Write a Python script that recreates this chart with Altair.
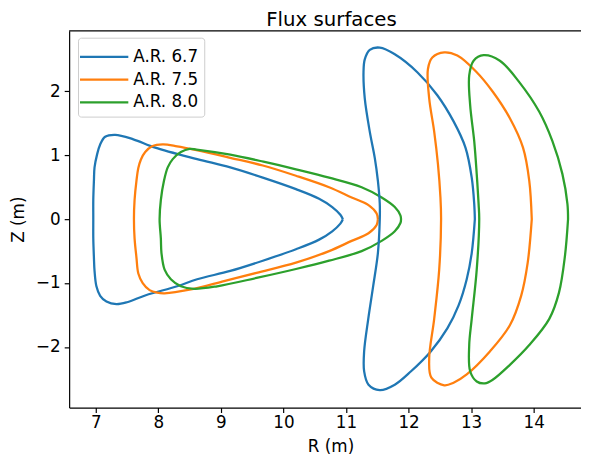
import altair as alt
import pandas as pd

labels = ["A.R. 6.7", "A.R. 7.5", "A.R. 8.0"]
colors = ["#1f77b4", "#ff7f0e", "#2ca02c"]
title_text = "Flux surfaces"

# A.R. 6.7 -- triangular section
tri67_R = [10.95, 10.91, 10.78, 10.57, 10.20, 9.67, 9.15, 8.62, 7.95, 7.60, 7.31, 7.15, 7.07, 7.02, 6.98, 6.97, 6.96, 6.96,
           6.96, 6.97, 6.98, 7.01, 7.07, 7.17, 7.33, 7.50, 7.80, 8.30, 8.62, 9.15, 9.67, 10.20, 10.57, 10.78, 10.91, 10.95]
tri67_Z = [0.0, 0.07, 0.19, 0.32, 0.47, 0.65, 0.81, 0.94, 1.12, 1.25, 1.32, 1.29, 1.17, 1.01, 0.81, 0.60, 0.30, 0.0,
           -0.30, -0.60, -0.81, -1.05, -1.20, -1.29, -1.33, -1.30, -1.19, -1.05, -0.94, -0.81, -0.65, -0.47, -0.32, -0.19, -0.07, 0.0]

# A.R. 7.5 -- triangular section
tri75_R = [11.51, 11.49, 11.36, 11.09, 10.73, 10.20, 9.67, 9.15, 8.61, 8.30, 8.07, 7.90, 7.79, 7.72, 7.68, 7.65, 7.62, 7.61,
           7.62, 7.65, 7.68, 7.75, 7.86, 7.98, 8.10, 8.52, 9.05, 9.57, 10.20, 10.73, 11.09, 11.36, 11.49, 11.51]
tri75_Z = [0.0, 0.09, 0.22, 0.34, 0.50, 0.68, 0.84, 0.96, 1.08, 1.14, 1.17, 1.14, 1.05, 0.93, 0.80, 0.60, 0.30, 0.0,
           -0.30, -0.60, -0.85, -1.00, -1.11, -1.15, -1.16, -1.10, -0.97, -0.84, -0.68, -0.50, -0.34, -0.22, -0.09, 0.0]

# A.R. 8.0 -- triangular section
tri80_R = [11.88, 11.87, 11.78, 11.57, 11.25, 10.73, 10.20, 9.68, 9.15, 8.61, 8.50, 8.36, 8.23, 8.15, 8.09, 8.04, 8.02,
           8.04, 8.05, 8.10, 8.20, 8.36, 8.57, 8.94, 9.57, 10.20, 10.73, 11.25, 11.57, 11.78, 11.87, 11.88]
tri80_Z = [0.0, 0.06, 0.19, 0.34, 0.50, 0.65, 0.78, 0.90, 1.01, 1.09, 1.10, 1.05, 0.94, 0.81, 0.60, 0.30, 0.0,
           -0.30, -0.53, -0.79, -0.94, -1.05, -1.09, -1.05, -0.92, -0.78, -0.65, -0.50, -0.34, -0.19, -0.06, 0.0]

# A.R. 6.7 -- crescent section
cre67_R = [13.06, 13.05, 13.01, 12.91, 12.72, 12.46, 12.14, 11.78, 11.54, 11.38, 11.30, 11.28, 11.30, 11.38, 11.46, 11.51, 11.54, 11.54,
           11.51, 11.435, 11.356, 11.29, 11.29, 11.36, 11.54, 11.78, 12.04, 12.355, 12.62, 12.80, 12.93, 13.01, 13.06]
cre67_Z = [0.0, 0.24, 0.65, 1.12, 1.53, 1.94, 2.30, 2.58, 2.685, 2.65, 2.50, 2.30, 1.89, 1.37, 0.96, 0.60, 0.24, 0.0,
           -0.53, -1.045, -1.56, -2.07, -2.38, -2.59, -2.675, -2.59, -2.38, -2.07, -1.71, -1.35, -0.94, -0.53, 0.0]

# A.R. 7.5 -- crescent section
cre75_R = [13.97, 13.93, 13.83, 13.62, 13.35, 13.09, 12.78, 12.57, 12.38, 12.31, 12.33, 12.41, 12.47, 12.51, 12.52,
           12.49, 12.41, 12.33, 12.365, 12.57, 12.72, 12.93, 13.30, 13.62, 13.80, 13.905, 13.97]
cre75_Z = [0.0, 0.60, 1.12, 1.58, 1.99, 2.30, 2.56, 2.61, 2.53, 2.35, 1.89, 1.37, 0.86, 0.34, 0.0,
           -0.79, -1.56, -2.18, -2.48, -2.60, -2.56, -2.43, -2.07, -1.66, -1.20, -0.68, 0.0]

# A.R. 8.0 -- crescent section
cre80_R = [14.55, 14.54, 14.46, 14.30, 14.09, 13.77, 13.46, 13.20, 13.04, 12.97, 12.985, 13.05, 13.09, 13.12, 13.13,
           13.09, 13.01, 12.97, 12.985, 13.09, 13.22, 13.35, 13.62, 13.93, 14.25, 14.405, 14.50, 14.55]
cre80_Z = [0.0, 0.24, 0.705, 1.22, 1.68, 2.145, 2.48, 2.566, 2.48, 2.25, 1.785, 1.22, 0.705, 0.24, 0.0,
           -0.79, -1.56, -1.97, -2.38, -2.54, -2.57, -2.51, -2.28, -1.97, -1.56, -1.15, -0.58, 0.0]

x_ticks = [7, 8, 9, 10, 11, 12, 13, 14]
y_ticks = [-2, -1, 0, 1, 2]

curves = [
    (labels[0], "triangle", tri67_R, tri67_Z),
    (labels[1], "triangle", tri75_R, tri75_Z),
    (labels[2], "triangle", tri80_R, tri80_Z),
    (labels[0], "crescent", cre67_R, cre67_Z),
    (labels[1], "crescent", cre75_R, cre75_Z),
    (labels[2], "crescent", cre80_R, cre80_Z),
]
rows = []
for lab, sec, rr, zz in curves:
    for i, (r, z) in enumerate(zip(rr, zz)):
        rows.append({"AR": lab, "section": sec, "key": lab + sec, "idx": i, "R": r, "Z": z})
df = pd.DataFrame(rows)

W, H = 519, 382
FONT = "DejaVu Sans"
FS = 17

lines = alt.Chart(df).mark_line(strokeWidth=2.3, interpolate="catmull-rom").encode(
    x=alt.X("R:Q",
            scale=alt.Scale(domain=[6.574, 14.757], nice=False, zero=False),
            axis=alt.Axis(values=x_ticks, title="R (m)", labelPadding=2,
                          titleX=265, titleY=45, titleBaseline="alphabetic")),
    y=alt.Y("Z:Q",
            scale=alt.Scale(domain=[-2.948, 2.948], nice=False, zero=False),
            axis=alt.Axis(values=y_ticks, title="Z (m)", labelPadding=4,
                          titleX=-46, titleY=H / 2, titleAngle=270, titleBaseline="alphabetic",
                          titleAlign="center")),
    color=alt.Color("AR:N",
                    scale=alt.Scale(domain=labels, range=colors),
                    legend=alt.Legend(orient="none", legendX=9, legendY=7, title=None,
                                      symbolType="M-2,0H2", symbolSize=600, symbolStrokeWidth=2.3,
                                      symbolOffset=7,
                                      labelFontSize=FS, labelFont=FONT, labelColor="black",
                                      labelOffset=16, rowPadding=1, padding=6,
                                      fillColor="rgba(255,255,255,0.8)", strokeColor="#cccccc",
                                      cornerRadius=3)),
    detail="key:N",
    order="idx:Q",
)

top_spine = alt.Chart(alt.Data(values=[{}])).mark_rule(color="black", strokeWidth=1.2).encode(
    x=alt.value(0), x2=alt.value(W), y=alt.value(0)
)

title_mark = alt.Chart(alt.Data(values=[{"t": title_text}])).mark_text(
    font=FONT, fontSize=20, align="center", baseline="alphabetic", color="black"
).encode(text="t:N", x=alt.value(266), y=alt.value(-5))

chart = alt.layer(lines, top_spine, title_mark).properties(
    width=W, height=H,
    autosize=alt.AutoSizeParams(type="none"),
    padding={"left": 62, "top": 20, "right": 0, "bottom": 45},
).configure_view(stroke=None).configure_axis(
    labelFont=FONT, labelFontSize=FS, labelColor="black",
    titleFont=FONT, titleFontSize=FS, titleFontWeight="normal", titleColor="black",
    grid=False, domainColor="black", tickColor="black", tickSize=5,
    domainWidth=1.2, tickWidth=1.2,
)

chart.save("out.html", embed_options={"renderer": "svg", "actions": False})
